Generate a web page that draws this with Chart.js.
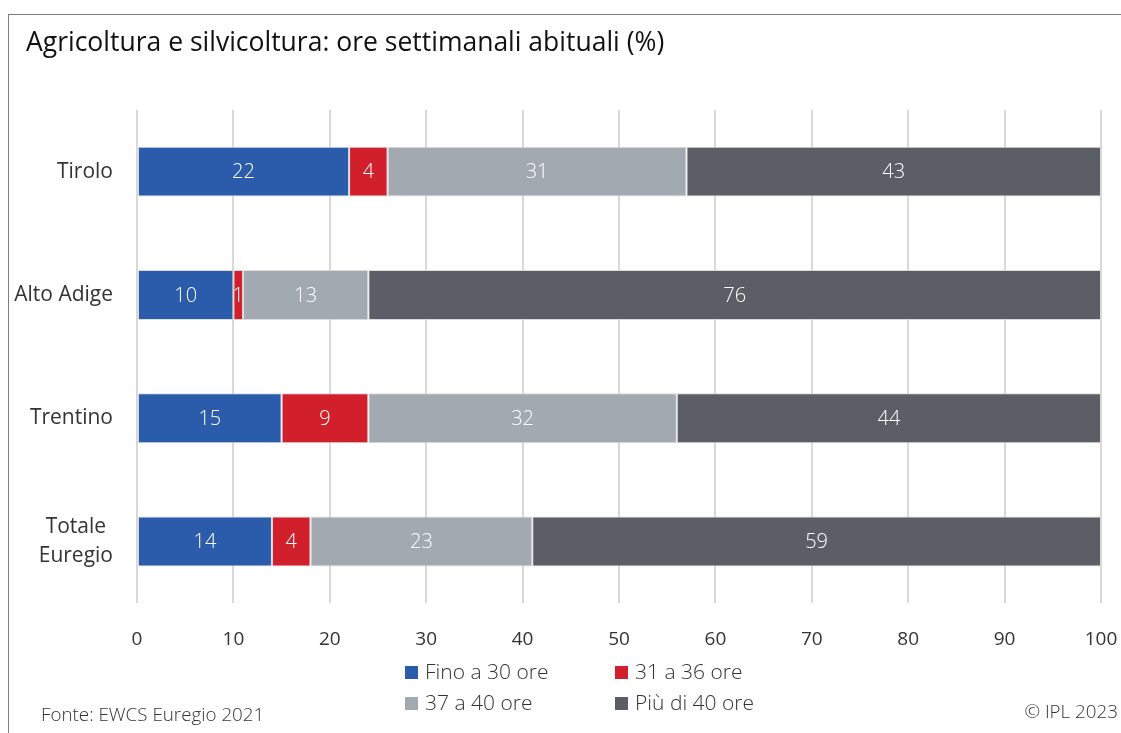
<!DOCTYPE html>
<html>
<head>
<meta charset="utf-8">
<script src="https://cdn.jsdelivr.net/npm/chart.js@4/dist/chart.umd.min.js"></script>
<style>
  html, body { margin: 0; padding: 0; background: #fff; }
  #wrap { position: relative; width: 1121px; height: 733px; }
  #frame { position: absolute; left: 8px; top: 14px; right: 0; bottom: 0;
           border-top: 1.5px solid #7a7d82; border-left: 1.5px solid #7a7d82; }
  canvas { position: absolute; left: 0; top: 0; }
</style>
</head>
<body>
<div id="wrap">
  <div id="frame"></div>
  <canvas id="myChart" width="1121" height="733"></canvas>
</div>
<script>
'use strict'

// === DATA ===
const regions = [['Tirolo'], ['Alto Adige'], ['Trentino'], ['Totale', 'Euregio']]
const upTo30 = [22, 10, 15, 14]
const from31to36 = [4, 1, 9, 4]
const from37to40 = [31, 13, 32, 23]
const over40 = [43, 76, 44, 59]
const seriesNames = ['Fino a 30 ore', '31 a 36 ore', '37 a 40 ore', 'Più di 40 ore']
const seriesColors = ['#2b5cab', '#d11f2b', '#a3a9b1', '#5b5e65']
const xTicks = [0, 10, 20, 30, 40, 50, 60, 70, 80, 90, 100]

const FONT = "'Open Sans', 'Noto Sans', sans-serif"

// === TEXTS, CATEGORY LABELS, VALUE LABELS, LEGEND ===
const decor = {
  id: 'decor',
  afterDatasetsDraw(chart) {
    const ctx = chart.ctx
    // value labels inside the segments
    ctx.save()
    ctx.fillStyle = '#ffffff'
    ctx.font = '300 20px ' + FONT
    ctx.textAlign = 'center'
    ctx.textBaseline = 'middle'
    chart.data.datasets.forEach((ds, i) => {
      chart.getDatasetMeta(i).data.forEach((bar, j) => {
        const cx = (bar.x + bar.base) / 2
        ctx.fillText(String(ds.data[j]), cx, bar.y + 1)
      })
    })
    ctx.restore()
  },
  afterDraw(chart) {
    const ctx = chart.ctx
    const y = chart.scales.y
    ctx.save()

    // title
    ctx.fillStyle = '#111'
    ctx.font = '26.5px ' + FONT
    ctx.textBaseline = 'middle'
    ctx.textAlign = 'left'
    ctx.fillText('Agricoltura e silvicoltura: ore settimanali abituali (%)', 26, 43)

    // category labels, lines centred on a right-aligned block
    ctx.fillStyle = '#333'
    ctx.font = '21px ' + FONT
    ctx.textAlign = 'center'
    const right = 113
    regions.forEach((lines, i) => {
      const py = y.getPixelForTick(i)
      const w = Math.max(...lines.map(l => ctx.measureText(l).width))
      const lh = 29
      lines.forEach((l, k) => {
        ctx.fillText(l, right - w / 2, py + (k - (lines.length - 1) / 2) * lh)
      })
    })

    // legend in two columns
    ctx.font = '300 21px ' + FONT
    ctx.textAlign = 'left'
    const colX = [405, 615]
    const rowY = [672, 703]
    seriesNames.forEach((name, i) => {
      const bx = colX[i % 2], by = rowY[Math.floor(i / 2)]
      ctx.fillStyle = seriesColors[i]
      ctx.fillRect(bx, by - 6, 13, 13)
      ctx.fillStyle = '#333'
      ctx.fillText(name, bx + 20, by + 1)
    })

    // source and copyright
    ctx.fillStyle = '#333'
    ctx.font = '300 18.8px ' + FONT
    ctx.fillText('Fonte: EWCS Euregio 2021', 41, 716)
    ctx.textAlign = 'right'
    ctx.fillText('© IPL 2023', 1118, 713)
    ctx.restore()
  }
}

const datasets = [upTo30, from31to36, from37to40, over40].map((values, i) => ({
  label: seriesNames[i],
  data: values,
  backgroundColor: seriesColors[i],
  borderColor: 'rgba(215,215,215,0.9)',
  borderWidth: 1,
  borderSkipped: false,
  categoryPercentage: 1,
  barPercentage: 0.405
}))

const ctx = document.getElementById('myChart')
const myChart = new Chart(ctx, {
  type: 'bar',
  data: {
    labels: regions.map(r => r.join(' ')),
    datasets: datasets
  },
  options: {
    indexAxis: 'y',
    responsive: false,
    animation: false,
    layout: { padding: { left: 137, right: 20, top: 110, bottom: 57 } },
    plugins: {
      legend: { display: false },
      title: { display: false },
      tooltip: { enabled: false }
    },
    scales: {
      x: {
        stacked: true,
        min: 0,
        max: 100,
        afterBuildTicks: scale => { scale.ticks = xTicks.map(v => ({ value: v })) },
        // keep the end labels from pushing the plot inwards
        afterFit: scale => { scale.paddingLeft = 0; scale.paddingRight = 0 },
        grid: { color: '#d9d9d9', lineWidth: 2, drawTicks: false },
        border: { display: false },
        ticks: {
          color: '#333',
          padding: 25,
          font: { family: FONT, size: 19 }
        }
      },
      y: {
        stacked: true,
        display: false
      }
    }
  },
  plugins: [decor]
})
</script>
</body>
</html>
